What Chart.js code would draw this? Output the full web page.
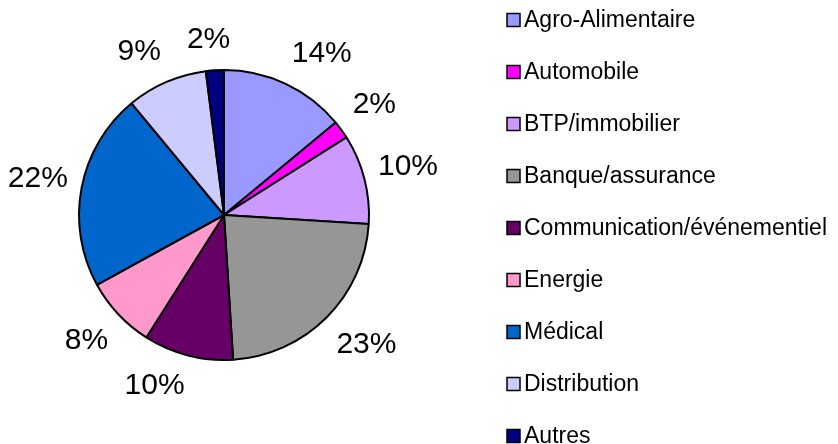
<!DOCTYPE html>
<html>
<head>
<meta charset="utf-8">
<script src="https://cdn.jsdelivr.net/npm/chart.js@4/dist/chart.umd.min.js"></script>
<style>
  html, body { margin: 0; padding: 0; background: #fff; }
  #wrap { width: 838px; height: 444px; position: relative; }
</style>
</head>
<body>
<div id="wrap"><canvas id="chart"></canvas></div>
<script>
const sectors = [
  "Agro-Alimentaire",
  "Automobile",
  "BTP/immobilier",
  "Banque/assurance",
  "Communication/événementiel",
  "Energie",
  "Médical",
  "Distribution",
  "Autres",
];
const shares = [14, 2, 10, 23, 10, 8, 22, 9, 2];
const colors = [
  "#9999ff", "#ff00ff", "#cc99ff", "#969696", "#660066",
  "#ff99cc", "#0066cc", "#ccccff", "#000080",
];

const FONT = "'Liberation Sans', Arial, sans-serif";

// percent labels outside each slice, placed like Excel's outside-end labels
const outsideLabels = {
  id: "outsideLabels",
  afterDatasetsDraw(chart) {
    const { ctx } = chart;
    const arcs = chart.getDatasetMeta(0).data;
    const total = shares.reduce((a, b) => a + b, 0);
    ctx.save();
    ctx.font = "30px " + FONT;
    ctx.fillStyle = "#000";
    ctx.textAlign = "center";
    ctx.textBaseline = "middle";
    arcs.forEach((arc, i) => {
      const { x, y, startAngle, endAngle, outerRadius } = arc.getProps(
        ["x", "y", "startAngle", "endAngle", "outerRadius"], true);
      const mid = (startAngle + endAngle) / 2;
      const c = Math.cos(mid);
      const s = Math.sin(mid);
      const text = Math.round((shares[i] / total) * 100) + "%";
      const w = ctx.measureText(text).width;
      const h = 34;
      const r = outerRadius + 14;
      const fx = Math.sign(c) * Math.min(1, Math.abs(c) * 4);
      const fy = Math.sign(s) * Math.min(1, Math.abs(s) * 2);
      const lx = x + r * c + (w / 2) * fx;
      const ly = y + r * s + (h / 2) * fy;
      ctx.fillText(text, lx, ly);
    });
    ctx.restore();
  },
};

// legend column on the right
const sideLegend = {
  id: "sideLegend",
  afterDraw(chart) {
    const { ctx } = chart;
    const x0 = 507;
    const y0 = 20;
    const step = 52;
    const box = 13;
    ctx.save();
    ctx.font = "23px " + FONT;
    ctx.textBaseline = "middle";
    ctx.textAlign = "left";
    sectors.forEach((name, i) => {
      const y = y0 + i * step;
      ctx.fillStyle = colors[i];
      ctx.fillRect(x0, y - box / 2, box, box);
      ctx.strokeStyle = "#000";
      ctx.lineWidth = 1.5;
      ctx.strokeRect(x0, y - box / 2, box, box);
      ctx.fillStyle = "#000";
      ctx.fillText(name, x0 + box + 4, y + 1);
    });
    ctx.restore();
  },
};

new Chart(document.getElementById("chart"), {
  type: "pie",
  data: {
    labels: sectors,
    datasets: [
      {
        data: shares,
        backgroundColor: colors,
        borderColor: "#000",
        borderWidth: 2,
        radius: 145,
      },
    ],
  },
  options: {
    animation: false,
    responsive: true,
    maintainAspectRatio: false,
    layout: {
      padding: { left: 78, right: 468, top: 70, bottom: 84 },
    },
    plugins: {
      legend: { display: false },
      tooltip: { enabled: false },
    },
  },
  plugins: [outsideLabels, sideLegend],
});
</script>
</body>
</html>
